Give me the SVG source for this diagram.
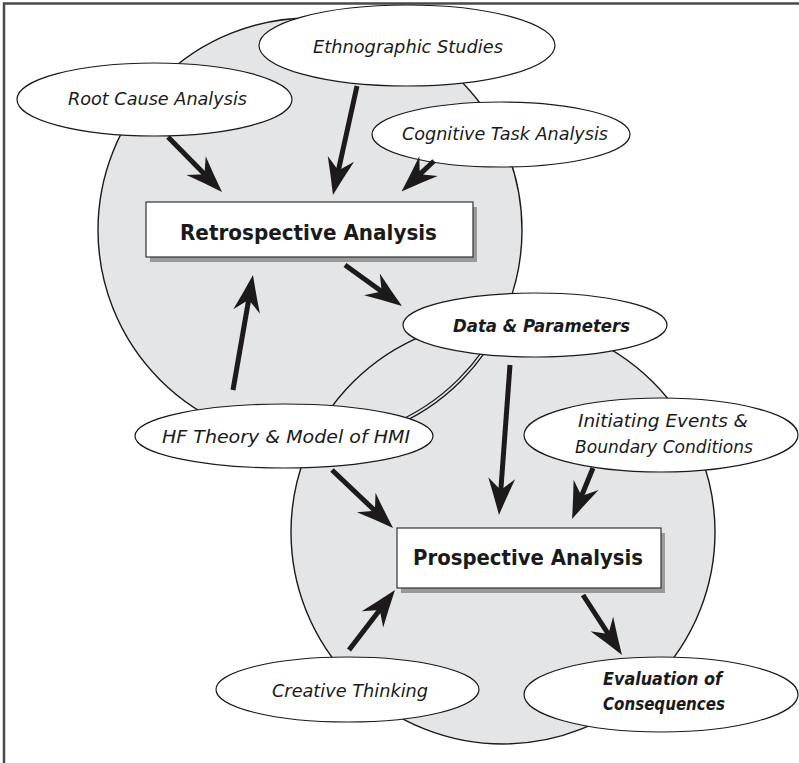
<svg xmlns="http://www.w3.org/2000/svg" width="799" height="763" viewBox="0 0 799 763">
  <style>
    .zone { fill: #e4e5e7; }
    .zone-line { fill: none; stroke: #1a1a1a; stroke-width: 1.4; }
    .bubble { fill: #ffffff; stroke: #1a1a1a; stroke-width: 1.2; }
    .box { fill: #ffffff; stroke: #333333; stroke-width: 1.2; }
    .shadow { fill: #9a9a9a; }
    .lbl { font-family: "DejaVu Sans", "Liberation Sans", sans-serif; font-size: 18.5px; font-style: oblique; fill: #1a1a1a; text-anchor: middle; }
    .lbl-b { font-weight: bold; }
    .title { font-family: "DejaVu Sans", "Liberation Sans", sans-serif; font-size: 22px; font-weight: bold; fill: #1a1a1a; text-anchor: middle; }
    .arrow { fill: none; stroke: #1c1a1b; stroke-width: 5; marker-end: url(#head); }
  </style>
  <defs>
    <marker id="head" markerUnits="userSpaceOnUse" viewBox="-18 -16 42 32" markerWidth="42" markerHeight="32" refX="0" refY="0" orient="auto">
      <path d="M22,0 Q3,-6.5 -15,-13.5 L-3,0 L-15,13.5 Q3,6.5 22,0 Z" fill="#1c1a1b"/>
    </marker>
    <clipPath id="lowerZone">
      <circle cx="503" cy="532" r="212"/>
    </clipPath>
  </defs>

  <rect width="799" height="763" fill="#ffffff"/>
  <!-- frame edges -->
  <path d="M4,763 V3.5 H799" fill="none" stroke="#4a4a4a" stroke-width="2.5"/>

  <!-- the two analysis zones -->
  <g id="zones">
    <circle class="zone" cx="310" cy="230" r="212"/>
    <circle class="zone" cx="503" cy="532" r="212"/>
    <circle class="zone-line" cx="310" cy="230" r="212"/>
    <circle class="zone-line" cx="503" cy="532" r="212"/>
    <g clip-path="url(#lowerZone)">
      <circle cx="310" cy="230" r="212" fill="none" stroke="#1a1a1a" stroke-width="4.2"/>
      <circle cx="310" cy="230" r="212" fill="none" stroke="#e4e5e7" stroke-width="1.6"/>
    </g>
  </g>

  <g id="root-cause">
    <ellipse class="bubble" cx="154.5" cy="99.5" rx="137.5" ry="36.5"/>
    <text class="lbl" x="157.5" y="105" textLength="179" lengthAdjust="spacingAndGlyphs">Root Cause Analysis</text>
  </g>
  <g id="ethnographic">
    <ellipse class="bubble" cx="407" cy="45.5" rx="148" ry="40.5"/>
    <text class="lbl" x="408" y="53" textLength="190" lengthAdjust="spacingAndGlyphs">Ethnographic Studies</text>
  </g>
  <g id="cognitive-task">
    <ellipse class="bubble" cx="501" cy="134.5" rx="129" ry="32.5"/>
    <text class="lbl" x="505" y="140" textLength="206" lengthAdjust="spacingAndGlyphs">Cognitive Task Analysis</text>
  </g>
  <g id="retrospective">
    <rect class="shadow" x="150" y="207" width="327" height="55"/>
    <rect class="box" x="146" y="202" width="327" height="55"/>
    <text class="title" x="308.5" y="240" textLength="257" lengthAdjust="spacingAndGlyphs">Retrospective Analysis</text>
  </g>
  <g id="data-parameters">
    <ellipse class="bubble" cx="535" cy="325" rx="132" ry="32"/>
    <text class="lbl lbl-b" x="541.5" y="332" textLength="177" lengthAdjust="spacingAndGlyphs">Data &amp; Parameters</text>
  </g>
  <g id="hf-theory">
    <ellipse class="bubble" cx="284" cy="436" rx="149" ry="32"/>
    <text class="lbl" x="286" y="443" textLength="248" lengthAdjust="spacingAndGlyphs">HF Theory &amp; Model of HMI</text>
  </g>
  <g id="initiating-events">
    <ellipse class="bubble" cx="661" cy="435" rx="137" ry="37"/>
    <text class="lbl" x="663" y="427" textLength="170" lengthAdjust="spacingAndGlyphs">Initiating Events &amp;</text>
    <text class="lbl" x="664" y="453" textLength="178" lengthAdjust="spacingAndGlyphs">Boundary Conditions</text>
  </g>
  <g id="prospective">
    <rect class="shadow" x="401" y="533" width="264" height="60"/>
    <rect class="box" x="397" y="528" width="264" height="60"/>
    <text class="title" x="528" y="565" textLength="230" lengthAdjust="spacingAndGlyphs">Prospective Analysis</text>
  </g>
  <g id="creative-thinking">
    <ellipse class="bubble" cx="347.5" cy="689.5" rx="131.5" ry="32.5"/>
    <text class="lbl" x="350" y="697" textLength="156" lengthAdjust="spacingAndGlyphs">Creative Thinking</text>
  </g>
  <g id="evaluation">
    <ellipse class="bubble" cx="661" cy="694.5" rx="137" ry="37.5"/>
    <text class="lbl lbl-b" x="662.5" y="685" textLength="119" lengthAdjust="spacingAndGlyphs">Evaluation of</text>
    <text class="lbl lbl-b" x="664" y="710" textLength="122" lengthAdjust="spacingAndGlyphs">Consequences</text>
  </g>

  <!-- connectors: each line stops short of its tip, the marker supplies the head -->
  <g id="connectors">
    <path class="arrow" d="M168,137 L206.6,176.3"/>
    <path class="arrow" d="M357,86 L337.7,173.5"/>
    <path class="arrow" d="M434,161 L417.6,176.4"/>
    <path class="arrow" d="M345,265 L384.1,293.2"/>
    <path class="arrow" d="M233,390 L249.2,296.7"/>
    <path class="arrow" d="M510,365 L500.6,493.1"/>
    <path class="arrow" d="M593,468 L580.4,498.7"/>
    <path class="arrow" d="M332,470 L377.1,512.8"/>
    <path class="arrow" d="M349,650 L381.6,607.5"/>
    <path class="arrow" d="M583,595 L610,636.6"/>
  </g>
</svg>
